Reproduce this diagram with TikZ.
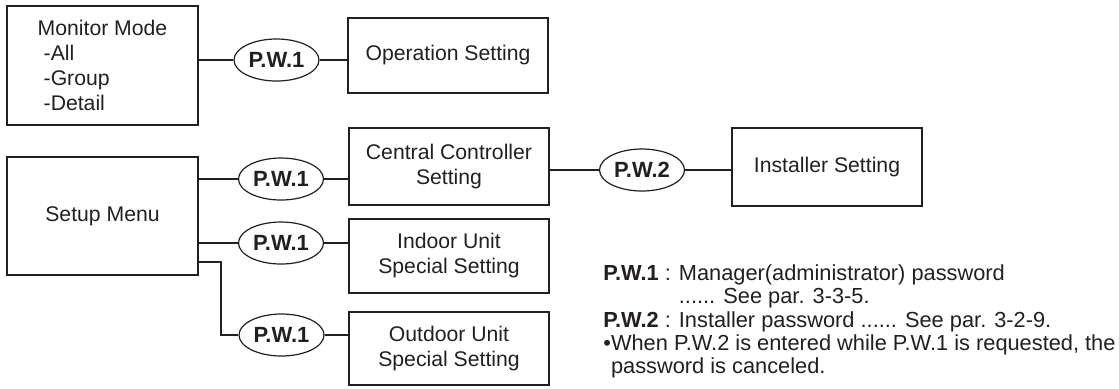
\documentclass[tikz,border=0pt]{standalone}
\usepackage{fontspec}
\setmainfont{Liberation Sans}
\usetikzlibrary{shapes.geometric}
\definecolor{inkgray}{RGB}{35,31,32}
\tikzset{
  menubox/.style={draw=inkgray, line width=1.3pt, inner sep=0pt, align=center, text=inkgray,
    minimum width=100pt},
  pword/.style={ellipse, draw=inkgray, line width=0.6pt, minimum width=42.5pt, minimum height=21pt,
    inner sep=0pt, text=inkgray, font=\fontsize{11pt}{12.5pt}\selectfont\bfseries},
  link/.style={draw=inkgray, line width=0.6pt},
}
\begin{document}
\begin{tikzpicture}[x=0.5pt,y=-0.5pt,
  every node/.append style={font=\fontsize{10.6pt}{12.5pt}\selectfont}]
\useasboundingbox (0,0) rectangle (1119,388);
% menu boxes
\node[menubox, minimum width=95.5pt, minimum height=59.5pt, align=left] (mon) at (102.5,65.5)
  {Monitor Mode\\\hspace*{3pt}-All\\\hspace*{3pt}-Group\\\hspace*{3pt}-Detail};
\node[menubox, minimum width=95.5pt, minimum height=59pt] (setup) at (102.5,216) {Setup Menu};
\node[menubox, minimum height=37.5pt] (op) at (448,55.5) {Operation Setting};
\node[menubox, minimum height=38.5pt] (cen) at (449,166.5) {Central Controller\\Setting};
\node[menubox, minimum height=37pt] (ind) at (449,256) {Indoor Unit\\Special Setting};
\node[menubox, minimum height=36.5pt] (out) at (449,348.5) {Outdoor Unit\\Special Setting};
\node[menubox, minimum width=95pt, minimum height=39pt] (inst) at (827,167) {Installer Setting};
% passwords
\node[pword] (pwa) at (276.5,60) {P.W.1};
\node[pword] (pwb) at (281,179) {P.W.1};
\node[pword] (pwc) at (281,243) {P.W.1};
\node[pword] (pwd) at (281.5,335) {P.W.1};
\node[pword] (pwe) at (642,170) {P.W.2};
\coordinate (knee) at (221,262);
% links
\draw[link] (pwa -| mon.east) -- (pwa) -- (pwa -| op.west);
\draw[link] (pwb -| setup.east) -- (pwb) -- (pwb -| cen.west);
\draw[link] (pwe -| cen.east) -- (pwe) -- (pwe -| inst.west);
\draw[link] (pwc -| setup.east) -- (pwc) -- (pwc -| ind.west);
\draw[link] (knee -| setup.east) -- (knee) |- (pwd) -- (pwd -| out.west);
% notes
\node[anchor=north west, inner sep=0pt, align=left, text=inkgray,
  font=\fontsize{10.9pt}{11.7pt}\selectfont] (notes) at (603,264)
  {\textbf{P.W.1} : Manager(administrator) password\\
   \hphantom{\textbf{P.W.1} : }...... See par. 3-3-5.\\
   \textbf{P.W.2} : Installer password ...... See par. 3-2-9.\\
   •When P.W.2 is entered while P.W.1 is requested, the\\
   \hphantom{•}password is canceled.};
\end{tikzpicture}
\end{document}
